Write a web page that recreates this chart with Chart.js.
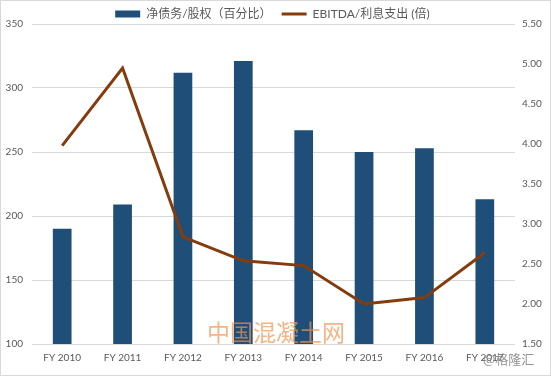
<!DOCTYPE html>
<html>
<head>
<meta charset="utf-8">
<script src="https://cdn.jsdelivr.net/npm/chart.js@4"></script>
<style>
    body { margin: 0; background: #fff; }
    #caja { width: 551px; height: 376px; box-sizing: border-box; border: 1px solid #d9d9d9; position: relative; }
</style>
</head>
<body>
<div id="caja"><canvas id="grafico"></canvas></div>
<script>
// datos
const categorias = ['FY 2010', 'FY 2011', 'FY 2012', 'FY 2013', 'FY 2014', 'FY 2015', 'FY 2016', 'FY 2017'];
const deudaNeta = [190, 209, 312, 321, 267, 250, 253, 213];
const ebitdaIntereses = [3.98, 4.95, 2.84, 2.54, 2.48, 2.00, 2.08, 2.64];
const ticksIzq = [100, 150, 200, 250, 300, 350];
const ticksDer = [1.5, 2.0, 2.5, 3.0, 3.5, 4.0, 4.5, 5.0, 5.5];

const fuenteTicks = { family: 'Lato, "Noto Sans CJK SC"', size: 10 };

// marcas de agua
const marcaAgua = {
    id: 'marcaAgua',
    afterDatasetsDraw(chart) {
        const c = chart.ctx;
        c.save();
        c.font = '23px "Noto Sans CJK SC"';
        c.fillStyle = 'rgba(240,150,80,0.7)';
        c.textBaseline = 'middle';
        c.fillText('中国混凝土网', 206, 331);
        c.font = '13px "Noto Sans CJK SC"';
        c.fillStyle = 'rgba(120,120,120,0.8)';
        c.fillText('@格隆汇', 482, 358);
        c.restore();
    }
};

// leyenda mas baja para que no empuje el grafico
const leyendaCompacta = {
    id: 'leyendaCompacta',
    beforeInit(chart) {
        const fitOriginal = chart.legend.fit;
        chart.legend.fit = function () {
            fitOriginal.call(this);
            this.height = 20;
        };
    }
};

const ctx = document.getElementById('grafico').getContext('2d');

var chart = new Chart(ctx, {
    data: {
        labels: categorias,
        datasets: [{
            type: 'line',
            label: 'EBITDA/利息支出 (倍)  ',
            data: ebitdaIntereses,
            yAxisID: 'yDer',
            borderColor: '#843C0C',
            backgroundColor: '#843C0C',
            borderWidth: 3,
            pointRadius: 0,
            pointStyle: 'line',
            tension: 0,
            order: 1
        },
        {
            type: 'bar',
            label: '净债务/股权（百分比）\u3000',
            data: deudaNeta,
            yAxisID: 'yIzq',
            backgroundColor: '#1F4E79',
            pointStyle: 'rect',
            categoryPercentage: 1,
            barPercentage: 0.31,
            order: 2
        }]
    },
    options: {
        responsive: true,
        maintainAspectRatio: false,
        animation: false,
        layout: { padding: { left: 2, right: 2, top: 3, bottom: 2 } },
        scales: {
            x: {
                grid: { display: false, drawTicks: false },
                border: { display: false },
                ticks: { color: '#595959', font: fuenteTicks, padding: 8, maxRotation: 0 },
                afterFit: function (eje) { eje.height = 29; }
            },
            yIzq: {
                position: 'left',
                min: 100,
                max: 350,
                afterBuildTicks: function (eje) { eje.ticks = ticksIzq.map(v => ({ value: v })); },
                grid: { color: '#d9d9d9', lineWidth: 1, drawTicks: false },
                border: { display: false },
                ticks: { color: '#595959', font: fuenteTicks, padding: 9 },
                afterFit: function (eje) { eje.width = 29; }
            },
            yDer: {
                position: 'right',
                min: 1.5,
                max: 5.5,
                afterBuildTicks: function (eje) { eje.ticks = ticksDer.map(v => ({ value: v })); },
                grid: { display: false, drawTicks: false },
                border: { display: false },
                ticks: {
                    color: '#595959', font: fuenteTicks, padding: 7,
                    callback: function (v) { return Number(v).toFixed(2); }
                },
                afterFit: function (eje) { eje.width = 33; }
            }
        },
        plugins: {
            legend: {
                position: 'top',
                reverse: true,
                labels: {
                    usePointStyle: true,
                    pointStyleWidth: 25,
                    boxHeight: 7,
                    padding: 4,
                    color: '#595959',
                    font: { family: '"Liberation Sans Narrow", Lato, "Noto Sans CJK SC"', size: 12 }
                }
            },
            tooltip: { enabled: false }
        }
    },
    plugins: [marcaAgua, leyendaCompacta]
});
</script>
</body>
</html>
